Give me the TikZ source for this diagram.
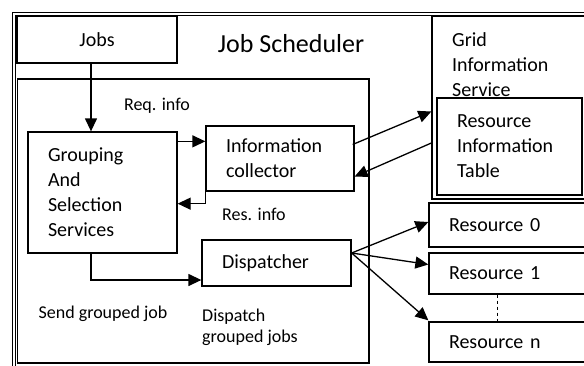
\documentclass[tikz,border=0pt]{standalone}
\usepackage{fontspec}
\setmainfont{Carlito}
\usetikzlibrary{arrows.meta}

\begin{document}
\begin{tikzpicture}[x=1pt, y=-1pt]
        \tikzstyle{box}=[rectangle, draw=black, line width=1.3pt, inner xsep=20pt, inner ysep=0pt, align=left, font=\fontsize{20pt}{25pt}\selectfont]
        \tikzstyle{lbl}=[inner sep=0pt, align=left, font=\fontsize{18pt}{21pt}\selectfont]
        \tikzstyle{arrow}=[-{Triangle[length=13pt,width=12pt]}, line width=1.3pt]

        \useasboundingbox (0,0) rectangle (584,365);
        \clip (0,0) rectangle (584,365);

        % frames
        \draw[double, double distance=2.5pt, line width=1pt] (13.75,13.75) rectangle (620,400);
        \draw[line width=1.3pt] (17.5,79) rectangle (369,363);
        \node[font=\fontsize{26pt}{30pt}\selectfont, inner sep=0pt] (title) at (291,44) {Job Scheduler};

        \node[box, align=center, minimum width=160pt, minimum height=47pt, inner xsep=0pt] (jobs) at (97,39.5) {Jobs};
        \node[box, text width=109pt, minimum height=121pt] (group) at (102.5,192.5) {Grouping\\And\\Selection\\Services};
        \node[box, text width=108pt, minimum height=65pt] (info) at (280,158.5) {Information\\collector};
        \node[box, text width=109pt, minimum height=46pt] (disp) at (276.5,263) {Dispatcher};

        \node[box, minimum width=168pt, minimum height=183pt] (gis) at (516,107.5) {};
        \node[lbl, anchor=west, font=\fontsize{20pt}{25pt}\selectfont] (gistext) at (452,65) {Grid\\Information\\Service};
        \node[box, text width=105pt, minimum height=97pt, fill=white] (rit) at (509.5,146.5) {Resource\\Information\\Table};

        \node[box, text width=131pt, minimum height=44pt] (res0) at (514.5,225) {Resource 0};
        \node[box, text width=131pt, minimum height=41pt] (res1) at (514.5,273.5) {Resource 1};
        \node[box, text width=131pt, minimum height=40pt] (resn) at (514.5,342) {Resource n};

        % labels
        \node[lbl] (req) at (157,106) {Req. info};
        \node[lbl] (res) at (254,214) {Res. info};
        \node[lbl] (send) at (103,314) {Send grouped job};
        \node[lbl, anchor=west] (displ) at (202,327.5) {Dispatch\\grouped jobs};

        % connectors
        \coordinate (jobsout) at ([xshift=-6pt]jobs.south);
        \draw[arrow] (jobsout) -- (jobsout |- group.north);

        \coordinate (reqout) at ([yshift=-10pt]group.north east);
        \draw[arrow] (reqout) -- (reqout -| info.west);

        \coordinate (resin) at ([yshift=-12pt]info.south west);
        \draw[arrow] (info.south west) -- (resin) -- (resin -| group.east);

        \coordinate (sendout) at ([xshift=-11.5pt]group.south);
        \coordinate (sendin) at ([yshift=-17pt]disp.west);
        \draw[arrow] (sendout) |- (sendin);

        \draw[arrow] ([xshift=-2pt,yshift=14pt]info.east) -- ([yshift=-4pt]gis.west);
        \draw[arrow] ([yshift=-35.5pt]gis.west) -- ([yshift=-18pt]info.east);

        \coordinate (dispout) at ([yshift=10pt]disp.east);
        \draw[arrow] (dispout) -- ([yshift=3pt]res0.west);
        \draw[arrow] (dispout) -- ([yshift=9pt]res1.west);
        \draw[arrow] (dispout) -- ([yshift=1pt]resn.north west);

        \draw[dashed, line width=1.3pt] ([xshift=69pt]res1.south west) -- ([xshift=69pt]resn.north west);
\end{tikzpicture}
\end{document}
